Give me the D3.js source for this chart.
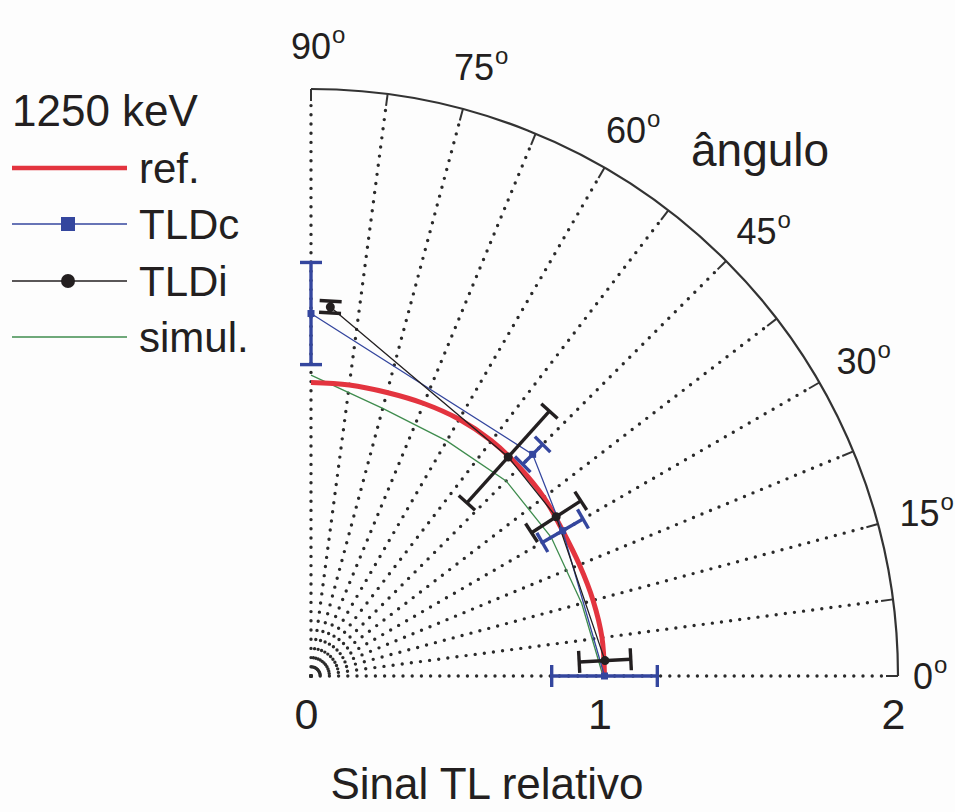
<!DOCTYPE html>
<html>
<head>
<meta charset="utf-8">
<script src="https://cdn.jsdelivr.net/npm/d3@7"></script>
<style>
  html, body { margin: 0; padding: 0; background: #fdfdfd; }
  svg { display: block; font-family: "Liberation Sans", Arial, Helvetica, sans-serif; }
</style>
</head>
<body>
<svg id="chart" width="955" height="812"></svg>
<script>
// ---------- data ----------
const gridAngles = [0, 7.5, 15, 22.5, 30, 37.5, 45, 52.5, 60, 67.5, 75, 82.5, 90];
const labelAngles = [0, 15, 30, 45, 60, 75, 90];
const radiusTicks = [0, 1, 2];

const refAngles = [0, 7.5, 15, 22.5, 30, 37.5, 45, 52.5, 60, 67.5, 75, 82.5, 90];
const refValues = [1.0, 1.0, 0.995, 0.99, 0.99, 1.0, 1.005, 1.01, 1.01, 1.005, 1.0, 1.0, 1.0];

const simAngles = [0, 15, 30, 45, 60, 75, 90];
const simValues = [0.995, 0.955, 0.945, 0.94, 0.925, 0.944, 1.025];

const tldcAngles = [0, 30, 45, 90];
const tldcValues = [1.0, 0.99, 1.068, 1.235];
const tldcErrors = [0.18, 0.08, 0.048, 0.174];

const tldiAngles = [3, 33, 48, 87];
const tldiValues = [1.003, 0.996, 1.004, 1.259];
const tldiErrors = [0.088, 0.10, 0.21, 0.02];

const legendTitle = "1250 keV";
const legendLabels = ["ref.", "TLDc", "TLDi", "simul."];
const angleTitle = "ângulo";
const axisTitle = "Sinal TL relativo";

// ---------- layout ----------
const svg = d3.select("#chart");
const cx = 311, cy = 676;
const r = d3.scaleLinear().domain([0, 2]).range([0, 587]);
const ang = d3.scaleLinear().domain([0, 90]).range([0, Math.PI / 2]);
const R = r(2);
const ink = "#231f20";
const colRed = "#e3343f", colBlue = "#34469e", colBlack = "#231f20", colGreen = "#3f8c4e";

function pt(a, v) {
  const t = ang(a), rr = r(v);
  return [cx + rr * Math.cos(t), cy - rr * Math.sin(t)];
}
function ptPx(a, px) {
  const t = ang(a);
  return [cx + px * Math.cos(t), cy - px * Math.sin(t)];
}

// dotted radial grid
const grid = svg.append("g");
gridAngles.forEach(a => {
  const p0 = ptPx(a, 0), p1 = ptPx(a, R - 13);
  grid.append("line")
    .attr("x1", p0[0]).attr("y1", p0[1]).attr("x2", p1[0]).attr("y2", p1[1])
    .attr("stroke", "#2a2a2a").attr("stroke-width", 3.4)
    .attr("stroke-linecap", "round").attr("stroke-dasharray", "0,9.2");
  const q0 = ptPx(a, R - 12), q1 = ptPx(a, R);
  grid.append("line")
    .attr("x1", q0[0]).attr("y1", q0[1]).attr("x2", q1[0]).attr("y2", q1[1])
    .attr("stroke", "#333").attr("stroke-width", 2);
});

// outer arc
const arcPath = d3.path();
arcPath.moveTo(cx + R, cy);
arcPath.arc(cx, cy, R, 0, -Math.PI / 2, true);
svg.append("path").attr("d", arcPath.toString())
  .attr("fill", "none").attr("stroke", "#333").attr("stroke-width", 2.2);

// angle labels
const angLab = svg.append("g").attr("fill", ink);
labelAngles.forEach(a => {
  const p = ptPx(a, a === 0 ? 612 : 630);
  const t = angLab.append("text")
    .attr("x", p[0]).attr("y", p[1] + 13)
    .attr("text-anchor", "middle")
    .attr("font-size", 36)
    .text(String(a));
  const w = t.node().getComputedTextLength();
  angLab.append("text")
    .attr("x", p[0] + w / 2 + 1).attr("y", p[1] - 3)
    .attr("font-size", 24)
    .text("o");
});

// radius axis
const axis = d3.axisBottom(r).tickValues(radiusTicks).tickSize(0).tickFormat(d3.format("d"));
const axG = svg.append("g").attr("transform", `translate(${cx - 5},${cy})`).call(axis);
axG.select(".domain").remove();
axG.selectAll("text")
  .attr("y", 53).attr("dy", 0)
  .attr("font-size", 43)
  .attr("font-family", "Liberation Sans, Arial, sans-serif")
  .attr("fill", ink);

// titles
svg.append("text").attr("x", 487).attr("y", 799).attr("text-anchor", "middle")
  .attr("font-size", 44).attr("fill", ink).text(axisTitle);
svg.append("text").attr("x", 691).attr("y", 166)
  .attr("font-size", 46).attr("fill", ink).text(angleTitle);

// series lines
const lineXY = () => d3.line().x(d => pt(d[0], d[1])[0]).y(d => pt(d[0], d[1])[1]);

svg.append("path")
  .datum(simAngles.map((a, i) => [a, simValues[i]]))
  .attr("d", lineXY())
  .attr("fill", "none").attr("stroke", colGreen).attr("stroke-width", 1.3);

svg.append("path")
  .datum(refAngles.map((a, i) => [a, refValues[i]]))
  .attr("d", lineXY().curve(d3.curveCardinal))
  .attr("fill", "none").attr("stroke", colRed).attr("stroke-width", 5);

svg.append("path")
  .datum(tldcAngles.map((a, i) => [a, tldcValues[i]]))
  .attr("d", lineXY())
  .attr("fill", "none").attr("stroke", colBlue).attr("stroke-width", 1.3);

svg.append("path")
  .datum(tldiAngles.map((a, i) => [a, tldiValues[i]]))
  .attr("d", lineXY())
  .attr("fill", "none").attr("stroke", colBlack).attr("stroke-width", 1.3);

// error bars (radial)
function errorBars(angles, values, errors, color) {
  const g = svg.append("g").attr("stroke", color).attr("stroke-width", 3.4).attr("fill", "none");
  angles.forEach((a, i) => {
    const lo = pt(a, values[i] - errors[i]), hi = pt(a, values[i] + errors[i]);
    g.append("line").attr("x1", lo[0]).attr("y1", lo[1]).attr("x2", hi[0]).attr("y2", hi[1]);
    const t = ang(a);
    const px = -Math.sin(t), py = -Math.cos(t);
    const h = 11;
    [lo, hi].forEach(p => {
      g.append("line")
        .attr("x1", p[0] - px * h).attr("y1", p[1] - py * h)
        .attr("x2", p[0] + px * h).attr("y2", p[1] + py * h);
    });
  });
}
errorBars(tldcAngles, tldcValues, tldcErrors, colBlue);
errorBars(tldiAngles, tldiValues, tldiErrors, colBlack);

// markers
svg.append("g").selectAll("rect")
  .data(tldcAngles.map((a, i) => pt(a, tldcValues[i])))
  .join("rect")
  .attr("x", d => d[0] - 3.5).attr("y", d => d[1] - 3.5)
  .attr("width", 7).attr("height", 7).attr("fill", colBlue);
svg.append("g").selectAll("circle")
  .data(tldiAngles.map((a, i) => pt(a, tldiValues[i])))
  .join("circle")
  .attr("cx", d => d[0]).attr("cy", d => d[1]).attr("r", 4.5).attr("fill", colBlack);

// legend
const leg = svg.append("g");
leg.append("text").attr("x", 12).attr("y", 126).attr("font-size", 44).attr("fill", ink).text(legendTitle);
const legY = [168, 224, 281, 337];
const legCol = [colRed, colBlue, colBlack, colGreen];
const legW = [4.5, 1.3, 1.3, 1.3];
legendLabels.forEach((lab, i) => {
  leg.append("line").attr("x1", 12).attr("x2", 127).attr("y1", legY[i]).attr("y2", legY[i])
    .attr("stroke", legCol[i]).attr("stroke-width", legW[i]);
  leg.append("text").attr("x", 139).attr("y", legY[i] + 15).attr("font-size", 42)
    .attr("fill", ink).text(lab);
});
leg.append("rect").attr("x", 61).attr("y", legY[1] - 7).attr("width", 14).attr("height", 14).attr("fill", colBlue);
leg.append("circle").attr("cx", 68).attr("cy", legY[2]).attr("r", 7).attr("fill", colBlack);
</script>
</body>
</html>
